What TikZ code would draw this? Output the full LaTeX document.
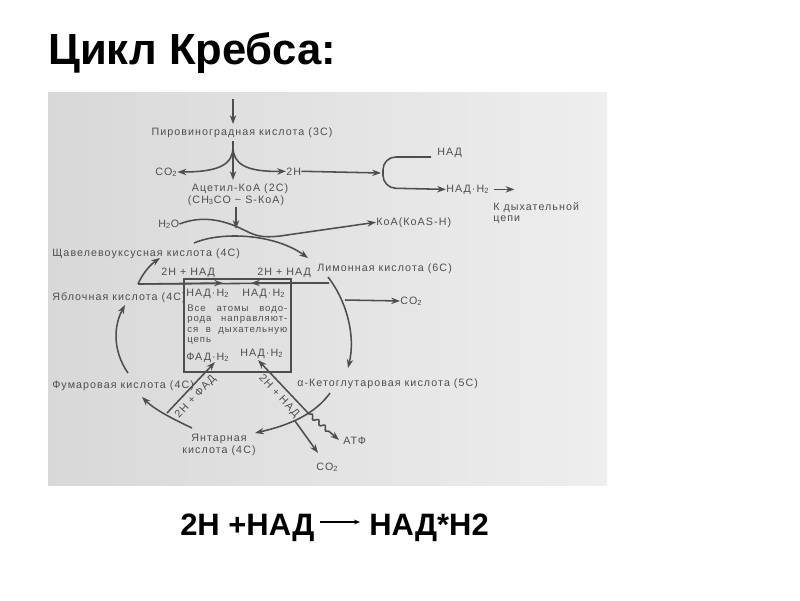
\documentclass[tikz,border=0pt]{standalone}
\usepackage{fontspec}
\setmainfont{Liberation Sans}
\newfontfamily\scanfont[LetterSpace=10]{Liberation Sans}
\usetikzlibrary{arrows.meta,decorations.pathmorphing}
\definecolor{ink}{HTML}{4E4E4E}
\definecolor{scanleft}{HTML}{D8D8D8}
\definecolor{scanright}{HTML}{EEEEEE}
\newcommand{\spreadline}[1]{\leavevmode\hbox to 2.5cm{#1}}
\tikzset{
  lbl/.style={text=ink, inner sep=0pt, font=\scanfont\fontsize{7.6}{8.6}\selectfont},
  smalllbl/.style={lbl, font=\scanfont\fontsize{6.8}{7.2}\selectfont},
  line/.style={draw=ink, line width=1.1pt},
  flow/.style={line, -{Stealth[length=2.2mm,width=1.6mm]}},
  wave/.style={flow, decorate, decoration={snake, amplitude=1.4pt, segment length=6pt, post length=2.5mm}},
  headtext/.style={inner sep=0pt, font=\bfseries\fontsize{31}{33}\selectfont},
  eqtext/.style={inner sep=0pt, font=\bfseries\fontsize{22}{24}\selectfont}
}

\begin{document}
\begin{tikzpicture}[x=0.025cm, y=-0.025cm]
  \useasboundingbox (0,0) rectangle (800,600);
  \fill[left color=scanleft, right color=scanright] (48,92) rectangle (607,485);

  \node[headtext, anchor=base west] (title) at (48,64) {Цикл Кребса:};

  \node[lbl, anchor=base] (pyr) at (242,135) {Пировиноградная кислота (3С)};
  \node[lbl, anchor=base] (acet) at (240,191) {Ацетил-КоА (2С)};
  \node[lbl, anchor=base] (acet2) at (236,203) {(CH\textsubscript{3}CO \textasciitilde{} S-КоА)};
  \node[lbl, anchor=base west] (co2a) at (155,175) {CO\textsubscript{2}};
  \node[lbl, anchor=base west] (twoh) at (286,175) {2H};
  \node[lbl, anchor=base west] (nad) at (437,155) {НАД};
  \node[lbl, anchor=base west] (nadh) at (446,192) {НАД·H\textsubscript{2}};
  \node[lbl, anchor=base west] (resp) at (493,210) {К дыхательной};
  \node[lbl, anchor=base west] (resp2) at (493,221) {цепи};
  \node[lbl, anchor=base west] (h2o) at (158,227) {H\textsubscript{2}O};
  \node[lbl, anchor=base west] (koa) at (376,225) {КоА(КоAS-H)};

  \node[lbl, anchor=base west] (oxalo) at (52,256) {Щавелевоуксусная кислота (4С)};
  \node[lbl, anchor=base west] (citr) at (317,271) {Лимонная кислота (6С)};
  \node[lbl, anchor=base west] (malate) at (52,300) {Яблочная кислота (4С)};
  \node[lbl, anchor=base west] (co2b) at (400,304) {CO\textsubscript{2}};
  \node[lbl, anchor=base west] (fumar) at (52,388) {Фумаровая кислота (4С)};
  \node[lbl, anchor=base west] (akg) at (297,386) {α-Кетоглутаровая кислота (5С)};
  \node[lbl, anchor=base] (succ) at (219,441) {Янтарная};
  \node[lbl, anchor=base] (succ2) at (219,453) {кислота (4С)};
  \node[lbl, anchor=base west] (atp) at (343,444) {АТФ};
  \node[lbl, anchor=base west] (co2c) at (316,470) {CO\textsubscript{2}};
  \node[lbl, anchor=base west] (nadl) at (161,275) {2H + НАД};
  \node[lbl, anchor=base west] (nadr) at (257,275) {2H + НАД};

  \node[line, anchor=north west, minimum width=2.68cm, minimum height=2.33cm] (pool) at (183,278) {};
  \node[lbl, anchor=base west] (pnad1) at (186,296) {НАД·H\textsubscript{2}};
  \node[lbl, anchor=base west] (pnad2) at (242,296) {НАД·H\textsubscript{2}};
  \node[smalllbl, anchor=north west, text width=2.5cm, align=left] (note) at (187,305)
    {\spreadline{Все\hfill атомы\hfill водо-}\\\spreadline{рода\hfill направляют-}\\\spreadline{ся\hfill в\hfill дыхательную}\\цепь};
  \node[lbl, anchor=base west] (pfad) at (186,360) {ФАД·H\textsubscript{2}};
  \node[lbl, anchor=base west] (pnad3) at (240,356) {НАД·H\textsubscript{2}};

  \node[eqtext, anchor=base west] (eqleft) at (180,535) {2H +НАД};
  \node[eqtext, anchor=base west] (eqright) at (369,535) {НАД*H2};
  \coordinate (eqa) at (320,522);
  \coordinate (eqb) at (360,522);
  \draw[-{Stealth[length=1.5mm,width=1.2mm]}, line width=0.8pt] (eqa) -- (eqb);

  \coordinate (feed) at (233,99);
  \coordinate (fork) at (233,147);
  \draw[flow] (feed) -- (233,124);
  \draw[flow] (233,141) -- (233,180);
  \draw[flow] (fork) .. controls (233,164) and (220,172) .. (co2a.east);
  \draw[flow] (fork) .. controls (233,164) and (246,172) .. (twoh.west);
  \draw[flow] (twoh.east) -- (381,173);
  \draw[flow, rounded corners=9pt] (431,157) -- (383,157) -- (383,188) -- (nadh.west);
  \draw[flow] (nadh.east) ++(5,0) coordinate (nadtip) -- ++(20,0);
  \draw[flow] (236,207) -- (236,229);
  \draw[flow] (h2o.east) .. controls (205,214) and (228,222) .. (244,230)
    .. controls (256,236) and (262,238) .. (280,236) -- (koa.west);

  \draw[flow] (194,243) .. controls (222,231) and (275,234) .. (308,258);
  \coordinate (mleft) at (138,284);
  \coordinate (cright) at (329,283);
  \draw[line] (mleft) -- (cright);
  \draw[flow] (mleft) -- (223,283);
  \draw[flow] (cright) -- (251,283);
  \draw[flow] (328,277) .. controls (346,300) and (356,335) .. (348,368);
  \coordinate (kink) at (345,300);
  \draw[flow] (kink) -- (co2b.west);
  \draw[flow] (330,393) .. controls (315,414) and (290,425) .. (255,433);
  \draw[flow] (192,428) .. controls (175,420) and (155,410) .. (142,397);
  \draw[flow] (128,373) .. controls (112,350) and (114,325) .. (125,305);
  \draw[flow] (mleft) .. controls (143,273) and (150,265) .. (160,258);

  \coordinate (fadfoot) at (167,413);
  \coordinate (nadfoot) at (309,414);
  \draw[flow] (fadfoot) -- node[lbl, sloped, below=3pt, pos=0.45] (fadlbl) {2H + ФАД} (215,362);
  \draw[flow] (nadfoot) -- node[lbl, sloped, below=3pt, pos=0.45] (nadlbl) {2H + НАД} (258,360);
  \draw[flow] (295,421) -- (318,453);
  \draw[wave] (nadfoot) -- (339,440);
\end{tikzpicture}
\end{document}
